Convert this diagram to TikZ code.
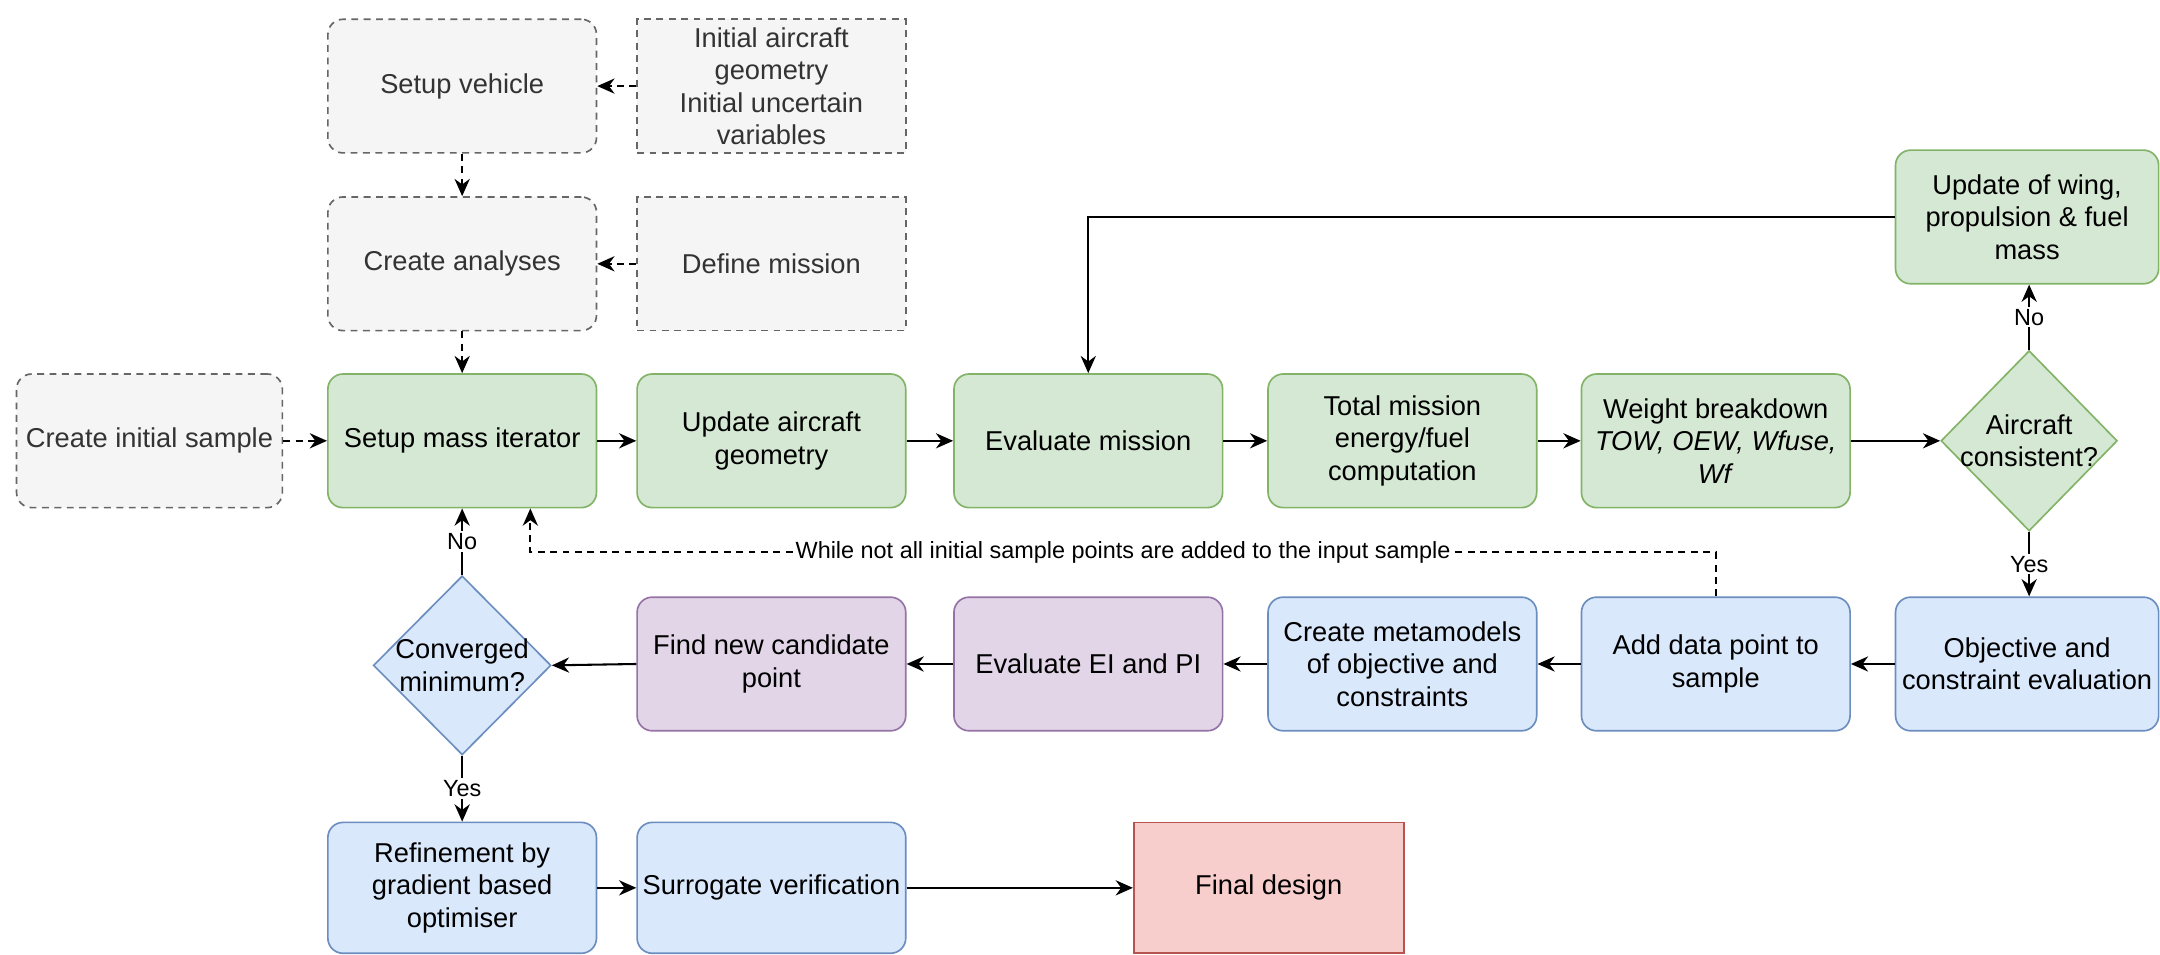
\documentclass[tikz,border=0pt]{standalone}
\usepackage{fontspec}
\setmainfont{Liberation Sans}
\usetikzlibrary{shapes.geometric,arrows.meta}
\definecolor{gfill}{HTML}{F5F5F5}\definecolor{gline}{HTML}{666666}\definecolor{gtext}{HTML}{333333}
\definecolor{grfill}{HTML}{D5E8D4}\definecolor{grline}{HTML}{82B366}
\definecolor{blfill}{HTML}{DAE8FC}\definecolor{blline}{HTML}{6C8EBF}
\definecolor{pufill}{HTML}{E1D5E7}\definecolor{puline}{HTML}{9673A6}
\definecolor{rdfill}{HTML}{F8CECC}\definecolor{rdline}{HTML}{B85450}
\begin{document}
\begin{tikzpicture}[x=1pt,y=-1pt,
  base/.style={minimum width=195pt,minimum height=97pt,inner sep=0pt,align=center,
    font=\fontsize{19.8pt}{23.6pt}\selectfont,line width=1.2pt},
  rbox/.style={base,rounded corners=11pt},
  dashpat/.style={dash pattern=on 5pt off 4pt},
  grayr/.style={rbox,draw=gline,fill=gfill,text=gtext,dashpat},
  grays/.style={base,draw=gline,fill=gfill,text=gtext,dashpat},
  greenbox/.style={rbox,draw=grline,fill=grfill,text=black},
  bluebox/.style={rbox,draw=blline,fill=blfill,text=black},
  purplebox/.style={rbox,draw=puline,fill=pufill,text=black},
  redbox/.style={base,draw=rdline,fill=rdfill,text=black},
  dia/.style={diamond,inner sep=0pt,line width=1.2pt},
  diatext/.style={align=center,inner sep=0pt,font=\fontsize{19.8pt}{23.6pt}\selectfont,text=black},
  flow/.style={-{Stealth[length=12.5pt,width=11pt,inset=4pt]},line width=1.5pt,black},
  dflow/.style={flow,dashpat},
  lab/.style={fill=white,inner sep=1.5pt,font=\fontsize{17pt}{20pt}\selectfont,text=black}
]
\fill[white] (0,0) rectangle (1568,693);
\useasboundingbox (0,0) rectangle (1568,693);

% top rows
\node[grayr] (sv) at (335.5,62.5) {Setup vehicle};
\node[grays] (init) at (560,62.5) {Initial aircraft\\geometry\\Initial uncertain\\variables};
\node[grayr] (ca) at (335.5,191.5) {Create analyses};
\node[grays] (dm) at (560,191.5) {Define mission};

% row 1
\node[grayr,minimum width=193pt] (cis) at (108.5,320) {Create initial sample};
\node[greenbox] (smi) at (335.5,320) {Setup mass iterator};
\node[greenbox] (uag) at (560,320) {Update aircraft\\geometry};
\node[greenbox] (em) at (790,320) {Evaluate mission};
\node[greenbox] (tm) at (1018,320) {Total mission\\energy/fuel\\computation};
\node[greenbox] (wb) at (1245.5,320) {Weight breakdown\\\textit{TOW, OEW, Wfuse,}\\\textit{Wf}};
\node[dia,draw=grline,fill=grfill,minimum width=128pt,minimum height=131pt] (ac) at (1473,320) {};
\node[diatext] (actext) at (ac.center) {Aircraft\\consistent?};
\node[greenbox,minimum width=191pt] (uw) at (1471.5,157.5) {Update of wing,\\propulsion \& fuel\\mass};

% row 2
\node[bluebox,minimum width=191pt] (obj) at (1471.5,482) {Objective and\\constraint evaluation};
\node[bluebox] (adp) at (1245.5,482) {Add data point to\\sample};
\node[bluebox] (cm) at (1018,482) {Create metamodels\\of objective and\\constraints};
\node[purplebox] (eei) at (790,482) {Evaluate EI and PI};
\node[purplebox] (fnc) at (560,482) {Find new candidate\\point};
\node[dia,draw=blline,fill=blfill,minimum width=129pt,minimum height=130pt] (conv) at (335.5,483) {};
\node[diatext] (convtext) at (conv.center) {Converged\\minimum?};

% row 3
\node[bluebox,minimum height=95pt] (ref) at (335.5,644.5) {Refinement by\\gradient based\\optimiser};
\node[bluebox,minimum height=95pt] (sur) at (560,644.5) {Surrogate verification};
\node[redbox,minimum width=196pt,minimum height=95pt] (fd) at (921,644.5) {Final design};

% dashed setup connectors
\draw[dflow] (init.west) -- (sv.east);
\draw[dflow] (sv.south) -- (ca.north);
\draw[dflow] (dm.west) -- (ca.east);
\draw[dflow] (ca.south) -- (smi.north);
\draw[dflow] (cis.east) -- (smi.west);

% main loop
\draw[flow] (smi.east) -- (uag.west);
\draw[flow] (uag.east) -- (em.west);
\draw[flow] (em.east) -- (tm.west);
\draw[flow] (tm.east) -- (wb.west);
\draw[flow] (wb.east) -- (ac.west);
\draw[flow] (ac.north) -- node[lab]{No} (ac.north |- uw.south);
\draw[flow] (uw.west) -| (em.north);
\draw[flow] (ac.south) -- node[lab]{Yes} (ac.south |- obj.north);

% optimisation loop
\draw[flow] (obj.west) -- (adp.east);
\draw[flow] (adp.west) -- (cm.east);
\draw[flow] (cm.west) -- (eei.east);
\draw[flow] (eei.west) -- (fnc.east);
\draw[flow] (fnc.west) -- (conv.east);
\draw[flow] (conv.north) -- node[lab]{No} (conv.north |- smi.south);
\draw[flow] (conv.south) -- node[lab]{Yes} (conv.south |- ref.north);
\draw[flow] (ref.east) -- (sur.west);
\draw[flow] (sur.east) -- (fd.west);

% sample loop
\coordinate (loopR) at (1245.5,401);
\coordinate (loopL) at (385,401);
\draw[dflow] (adp.north) -- (loopR) -- node[lab]{While not all initial sample points are added to the input sample} (loopL) -- (loopL |- smi.south);
\end{tikzpicture}
\end{document}
